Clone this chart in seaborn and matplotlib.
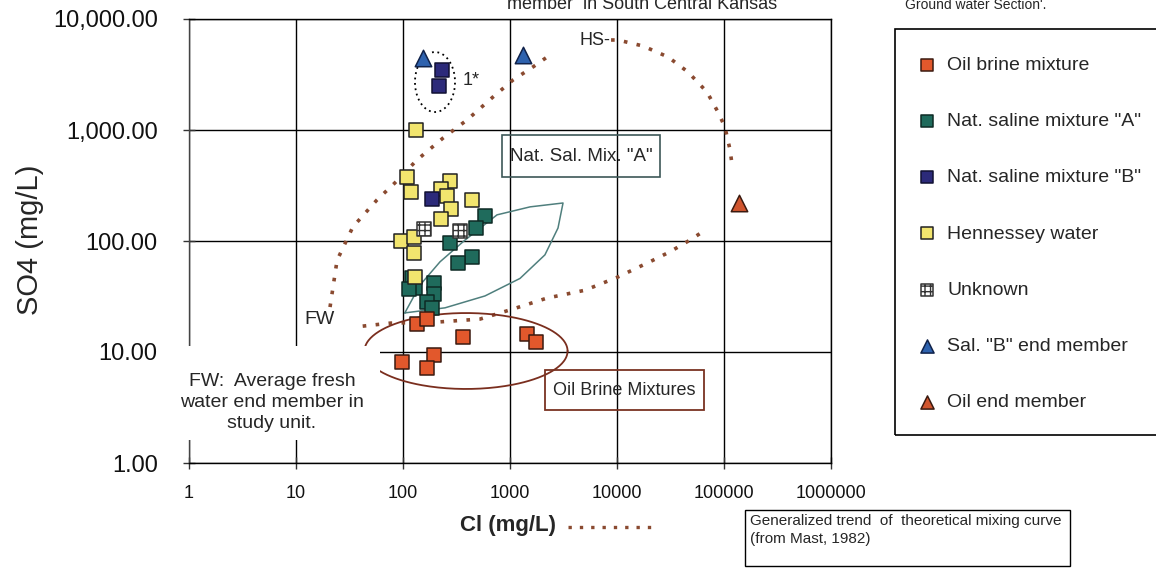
import numpy as np
import matplotlib
matplotlib.use("Agg")
import matplotlib.pyplot as plt
import seaborn as sns
from matplotlib.patches import Rectangle
from matplotlib.lines import Line2D
from matplotlib.ticker import FixedLocator, FixedFormatter, NullLocator

sns.set_theme(style="white")
plt.rcParams['font.family'] = ['Liberation Sans', 'DejaVu Sans']

# ---------------- data (Cl mg/L, SO4 mg/L) ----------------
oil_brine_cl = [135, 168, 364, 1443, 1750, 98, 195, 168]
oil_brine_so4 = [17.9, 19.8, 13.6, 14.5, 12.3, 8.1, 9.4, 7.2]

nat_a_cl = [584, 481, 275, 441, 326, 121, 194, 130, 194, 168, 187, 113]
nat_a_so4 = [168, 131, 96, 72, 63, 46, 42, 38, 33, 28, 25, 37]

nat_b_cl = [231, 216, 187]
nat_b_so4 = [3474, 2490, 239]

henn_cl = [132, 109, 118, 275, 227, 256, 441, 281, 227, 96, 127, 127, 130]
henn_so4 = [1000, 377, 276, 347, 294, 254, 234, 194, 158, 100, 109, 78, 47]

unknown_cl = [157, 341]
unknown_so4 = [128, 123]

sal_b_end_cl = [154, 1322]
sal_b_end_so4 = [4450, 4740]

oil_end_cl = [138000]
oil_end_so4 = [220]

# generalized mixing-curve traces (Mast, 1982)
curve_fw_hs_cl = [20.8, 24.2, 34, 57, 84, 135, 237, 396, 693, 1066, 1640, 2366]
curve_fw_hs_so4 = [25.4, 67, 134, 234, 334, 537, 847, 1230, 1983, 2820, 3700, 4740]

curve_fw_oil_cl = [42, 76, 208, 525, 1066, 2218, 5010, 10000, 20300, 31300, 48100, 62300]
curve_fw_oil_so4 = [17.1, 18.2, 18.6, 19.8, 24.4, 30.6, 36, 47, 65, 80, 102, 120]

curve_hs_oil_cl = [8800, 10200, 17500, 30000, 46100, 69300, 87900, 102000, 114000, 119000]
curve_hs_oil_so4 = [6470, 6470, 5710, 4550, 3330, 2200, 1450, 1064, 660, 484]

# Nat. saline mixture "A" envelope
lens_cl = [104, 144, 222, 380, 756, 1540, 3130, 2810, 2120, 1240, 584, 247, 104]
lens_so4 = [22.5, 40, 65, 102, 172, 203, 220, 131, 75, 46, 32, 25, 22.5]

y_ticks = [1, 10, 100, 1000, 10000]
y_tick_labels = ["1.00", "10.00", "100.00", "1,000.00", "10,000.00"]
x_ticks = [1, 10, 100, 1000, 10000, 100000, 1000000]
x_tick_labels = ["1", "10", "100", "1000", "10000", "100000", "1000000"]

# ---------------- figure ----------------
W, H = 1156, 582
fig = plt.figure(figsize=(W / 100, H / 100), dpi=100)
ax = fig.add_axes([189 / W, 1 - 463 / H, (831 - 189) / W, (463 - 19) / H])
ax.set_xscale('log')
ax.set_yscale('log')
ax.set_xlim(1, 1e6)
ax.set_ylim(1, 1e4)

ax.grid(True, which='major', color='black', lw=1.0)
ax.set_axisbelow(True)
for s in ax.spines.values():
    s.set_visible(True)
    s.set_color('black')
    s.set_linewidth(1.0)
ax.spines['left'].set_color('#444444')

ax.xaxis.set_major_locator(FixedLocator(x_ticks))
ax.xaxis.set_major_formatter(FixedFormatter(x_tick_labels))
ax.yaxis.set_major_locator(FixedLocator(y_ticks))
ax.yaxis.set_major_formatter(FixedFormatter(y_tick_labels))
ax.xaxis.set_minor_locator(NullLocator())
ax.yaxis.set_minor_locator(NullLocator())
ax.tick_params(axis='y', which='major', direction='inout', length=9, width=1,
               color='#333333', pad=18, labelsize=17, left=True, labelcolor='#111111')
ax.tick_params(axis='x', which='major', direction='inout', length=8, width=1,
               color='#333333', pad=12, labelsize=13, bottom=True, labelcolor='#111111')

# ---------------- curves ----------------
brown = '#8A4A30'
dot = (0, (1, 2.6))
ax.plot(curve_fw_hs_cl, curve_fw_hs_so4, color=brown, lw=2.6, ls=dot, zorder=3)
ax.plot(curve_fw_oil_cl, curve_fw_oil_so4, color=brown, lw=2.6, ls=dot, zorder=3)
ax.plot(curve_hs_oil_cl, curve_hs_oil_so4, color=brown, lw=2.6, ls=dot, zorder=3)
ax.plot(lens_cl, lens_so4, color='#4F7F7D', lw=1.1, zorder=3)

# Oil brine mixture ellipse (drawn in log space)
t = np.linspace(0, 2 * np.pi, 300)
ax.plot(10 ** (2.589 + 0.949 * np.cos(t)), 10 ** (1.009 + 0.342 * np.sin(t)),
        color='#7A2E1E', lw=1.3, zorder=3)
# dotted loop around the "1*" samples
t2 = np.radians(np.linspace(-210, 100, 120))
ax.plot(10 ** (2.299 + 0.187 * np.cos(t2)), 10 ** (3.432 + 0.27 * np.sin(t2)),
        color='black', lw=1.3, ls=(0, (1, 2)), zorder=3)

# ---------------- points ----------------
series = {}
def draw(label, xs, ys, marker, fc, ec, size, **kw):
    sns.scatterplot(x=xs, y=ys, marker=marker, color=fc, edgecolor=ec, linewidth=1.1,
                    s=size, ax=ax, zorder=4, legend=False, **kw)
    series[label] = ax.collections[-1]

draw('Nat. saline mixture "A"', nat_a_cl, nat_a_so4, 's', '#1F6B5C', '#0d2a24', 110)
draw('Hennessey water', henn_cl, henn_so4, 's', '#F2E56E', '#222222', 110)
draw('Nat. saline mixture "B"', nat_b_cl, nat_b_so4, 's', '#2C2A7A', '#111133', 110)
draw('Unknown', unknown_cl, unknown_so4, 's', 'white', '#333333', 110, hatch='+++')
draw('Oil brine mixture', oil_brine_cl, oil_brine_so4, 's', '#E2582C', '#3a1a10', 110)
draw('Sal. "B" end member', sal_b_end_cl, sal_b_end_so4, '^', '#2E62AE', '#10224a', 140)
draw('Oil end member', oil_end_cl, oil_end_so4, '^', '#D0552E', '#3a1a10', 140)

# ---------------- annotations ----------------
ax.text(0.4268, 0.8626, '1*', transform=ax.transAxes, ha='left', va='center',
        fontsize=13, zorder=5)
ax.text(0.6558, 0.9527, 'HS-', transform=ax.transAxes, ha='right', va='center',
        fontsize=13, zorder=5)
ax.text(0.2040, 0.3221, 'FW', transform=ax.transAxes, ha='center', va='center',
        fontsize=14, zorder=5)

ax.add_patch(Rectangle((-0.022, 0.052), 0.32, 0.212, transform=ax.transAxes,
                       fc='white', ec='none', zorder=3.5, clip_on=False))
ax.text(0.1293, 0.1370, 'FW:  Average fresh\nwater end member in\nstudy unit.',
        transform=ax.transAxes, ha='center', va='center', fontsize=14,
        linespacing=1.3, zorder=5)

ax.add_patch(Rectangle((0.4875, 0.644), 0.2461, 0.0946, transform=ax.transAxes,
                       fill=False, ec='#3d5757', lw=1.2, zorder=5))
ax.text(0.6106, 0.6914, 'Nat. Sal. Mix. "A"', transform=ax.transAxes,
        ha='center', va='center', fontsize=13.5, zorder=5)

ax.add_patch(Rectangle((0.5550, 0.1194), 0.2472, 0.0901, transform=ax.transAxes,
                       fill=False, ec='#7A3322', lw=1.3, zorder=5))
ax.text(0.6786, 0.1644, 'Oil Brine Mixtures', transform=ax.transAxes,
        ha='center', va='center', fontsize=13, zorder=5)

ax.set_ylabel('SO4 (mg/L)', fontsize=21)
ax.yaxis.set_label_coords((44 - 189) / 642, (463 - 240) / 444)
ax.set_xlabel('Cl (mg/L)', fontsize=16, fontweight='bold')
ax.xaxis.set_label_coords((508 - 189) / 642, (463 - 515) / 444)

# top clipped headings
fig.text(642 / W, 1 - 9 / H, 'member  in South Central Kansas', ha='center',
         va='baseline', fontsize=13)
fig.text(905 / W, 1 - 9 / H, "Ground water Section'.", ha='left',
         va='baseline', fontsize=10)

# legend for the mixing-curve symbol
fig.add_artist(Line2D([568 / W, 653 / W], [1 - 527 / H, 1 - 527 / H], color=brown,
                      lw=2.4, ls=(0, (1, 2.4))))
fig.add_artist(Rectangle((745 / W, 1 - 566 / H), 325 / W, 56 / H, fill=False,
                         ec='black', lw=1.0, transform=fig.transFigure))
fig.text(750 / W, 1 - 521 / H, 'Generalized trend  of  theoretical mixing curve',
         ha='left', va='center', fontsize=11,
         family=['Liberation Sans Narrow', 'Liberation Sans'])
fig.text(750 / W, 1 - 539 / H, '(from Mast, 1982)', ha='left', va='center',
         fontsize=11, family=['Liberation Sans Narrow', 'Liberation Sans'])

# main legend
fig.add_artist(Rectangle((895 / W, 1 - 435 / H), 280 / W, 406 / H, fill=False,
                         ec='black', lw=1.2, transform=fig.transFigure))
order = ['Oil brine mixture', 'Nat. saline mixture "A"', 'Nat. saline mixture "B"',
         'Hennessey water', 'Unknown', 'Sal. "B" end member', 'Oil end member']
leg = fig.legend([series[k] for k in order], order, loc='upper left',
                 bbox_to_anchor=(917 / W, 1 - 56 / H), frameon=False, fontsize=14,
                 labelspacing=1.99, handletextpad=0.55, handlelength=1.0,
                 borderpad=0, borderaxespad=0, markerscale=0.8)

fig.savefig('out.png', dpi=100)
